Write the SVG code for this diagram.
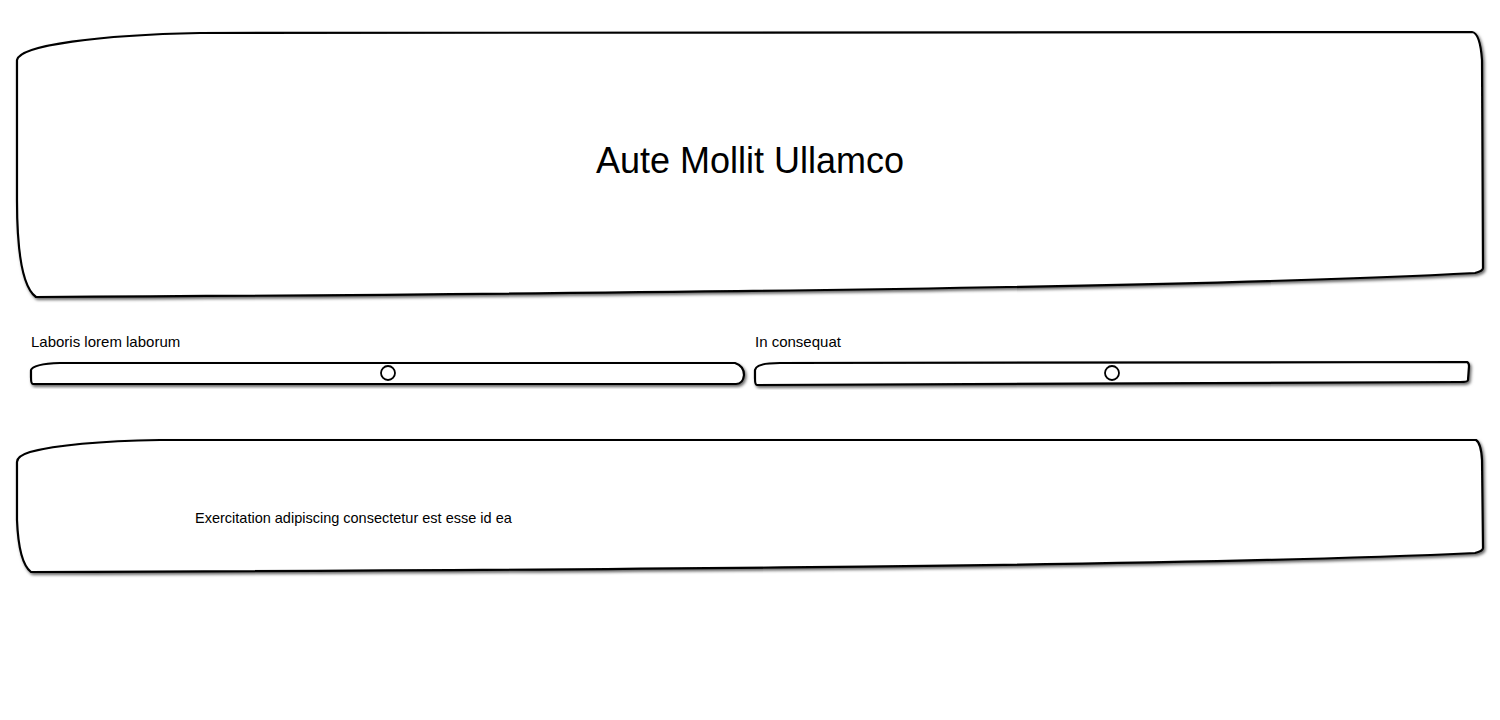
<svg xmlns="http://www.w3.org/2000/svg" width="1500" height="720" viewBox="0 0 1500 720">
<defs>
<filter id="sh" x="-5%" y="-20%" width="110%" height="140%">
<feDropShadow dx="1.5" dy="2" stdDeviation="1.6" flood-color="#000" flood-opacity="0.6"/>
</filter>
<style>
.box{fill:#fff;stroke:#000;stroke-width:2.2;filter:url(#sh)}
.knob{fill:#fff;stroke:#000;stroke-width:1.8}
.t{font-family:"Liberation Sans","DejaVu Sans",sans-serif;fill:#000}
</style>
</defs>
<rect width="1500" height="720" fill="#fff"/>
<g id="header">
<path class="box" d="M36 297 C22 287 17 250 17 200 L17 60 C20 45 100 35 200 33 L1472 32 Q1480 33 1482 60 L1483 268 Q1483 271 1475 273 C1200 288 600 294 36 297 Z"/>
<text class="t" x="750" y="173" font-size="36" text-anchor="middle">Aute Mollit Ullamco</text>
</g>
<g id="slider1">
<text class="t" x="31" y="347" font-size="15">Laboris lorem laborum</text>
<path class="box" d="M33 384 Q31 384 31 377 L31 370 Q33 364 60 363 L735 363 Q744 366 744 375 Q743 384 736 384 Z"/>
<circle class="knob" cx="388" cy="373" r="7"/>
</g>
<g id="slider2">
<text class="t" x="755" y="347" font-size="15">In consequat</text>
<path class="box" d="M757 385 Q755 385 755 378 L755 370 Q756 363 780 363 L1467 362 Q1469 363 1469 366 L1468 380 Q1468 382 1460 382 Q1100 384 757 385 Z"/>
<circle class="knob" cx="1112" cy="373" r="7"/>
</g>
<g id="content">
<path class="box" d="M31 572 C22 565 18 545 17 520 L17 462 Q17 456 30 452 C60 444 100 441 160 440 L1476 440 Q1481 443 1482 460 L1483 548 Q1483 551 1475 553 C1200 566 600 570 31 572 Z"/>
<text class="t" x="195" y="523" font-size="14.5">Exercitation adipiscing consectetur est esse id ea</text>
</g>
</svg>
